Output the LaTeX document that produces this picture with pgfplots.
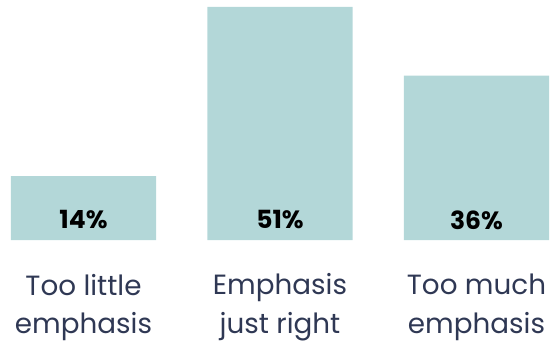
\documentclass[border=0pt]{standalone}
\usepackage{pgfplots}
\pgfplotsset{compat=1.18}
\usepackage{fontspec}
\setmainfont{Poppins}
\definecolor{barc}{HTML}{B3D7D8}
\definecolor{txt}{HTML}{2F3854}
\begin{document}
\begin{tikzpicture}
\begin{axis}[
  scale only axis, width=556pt, height=345pt,
  xmin=-0.4249, xmax=2.4046,
  ymin=-22.98, ymax=52.53,
  hide axis, clip=false,
  bar width=0.738,
]
\addplot[ybar, fill=barc, draw=none] coordinates {(0,14) (1,51) (2,36)};
\addplot[draw=none, mark=none, nodes near coords, point meta=explicit symbolic,
  every node near coord/.style={anchor=center, font=\fontsize{25}{25}\selectfont\bfseries, text=black}]
  table[meta=lab] {
x y lab
0 4.38 14\%
1 4.38 51\%
2 4.38 36\%
};
\node[align=center, text=txt, font=\fontsize{27.8}{38.5}\selectfont] at (axis cs:0,-14.75) {Too little\\emphasis};
\node[align=center, text=txt, font=\fontsize{27.8}{38.5}\selectfont] at (axis cs:1,-14.75) {Emphasis\\just right};
\node[align=center, text=txt, font=\fontsize{27.8}{38.5}\selectfont] at (axis cs:2,-14.75) {Too much\\emphasis};
\end{axis}
\pgfresetboundingbox
\path (current axis.south west) rectangle (current axis.north east);
\end{tikzpicture}
\end{document}
